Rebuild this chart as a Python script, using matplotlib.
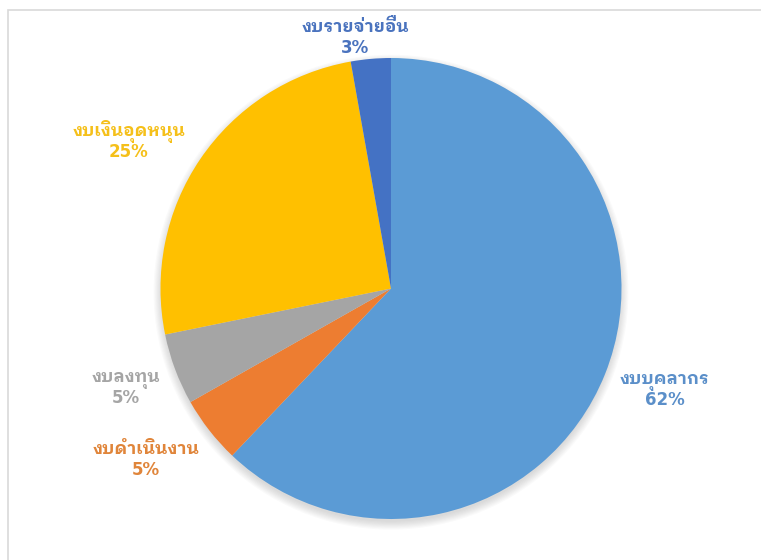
import matplotlib
matplotlib.use("Agg")
import matplotlib.pyplot as plt
from matplotlib.patches import Circle, Rectangle

plt.rcParams['font.family'] = ['IBM Plex Sans Thai Looped', 'DejaVu Sans']

# ข้อมูล (ตามเข็มนาฬิกาจากด้านบน)
labels = ['งบบุคลากร', 'งบดำเนินงาน', 'งบลงทุน', 'งบเงินอุดหนุน', 'งบรายจ่ายอื่น']
values = [62.1, 4.7, 5.0, 25.4, 2.8]
colors = ['#5B9BD5', '#ED7D31', '#A5A5A5', '#FFC000', '#4472C4']
text_colors = ['#5B8FC9', '#E0853A', '#A5A5A5', '#F5C01A', '#4A73BE']
# ตำแหน่งป้าย: x กลาง, baseline บรรทัดชื่อ (พิกเซล จากมุมซ้ายบน)
label_px = [(665, 384), (146, 454), (126, 382), (129, 136), (355, 32)]

W, H = 761, 560
cx, cy, R = 391, 288.5, 230.5

fig = plt.figure(figsize=(W / 100, H / 100), dpi=100)

# กรอบบาง ๆ
fig.patches.append(Rectangle((8 / W, -0.1), 1.2, 1 - 10 / H + 0.1,
                             transform=fig.transFigure, fill=False,
                             edgecolor='#D9D9D9', linewidth=1.2))

ax = fig.add_axes([(cx - R) / W, (H - cy - R) / H, 2 * R / W, 2 * R / H])

# เงาใต้วงกลม
for k in range(8):
    ax.add_patch(Circle((0.0, -0.016), 0.995 + k * 0.005, color='#808080',
                        alpha=0.04, linewidth=0, zorder=0, clip_on=False))

wedges, _ = ax.pie(values, colors=colors, startangle=90, counterclock=False,
                   radius=1, wedgeprops=dict(linewidth=0))
for w in wedges:
    w.set_zorder(2)

ax.set_xlim(-1, 1)
ax.set_ylim(-1, 1)
ax.set_aspect('equal')
ax.axis('off')

for lab, v, c, (x, y) in zip(labels, values, text_colors, label_px):
    fig.text(x / W, 1 - y / H, lab, ha='center', va='baseline',
             color=c, fontsize=12.5, fontweight='bold')
    fig.text(x / W, 1 - (y + 21) / H, f'{round(v)}%', ha='center', va='baseline',
             color=c, fontsize=12, fontweight='bold', family='DejaVu Sans')

fig.savefig('out.png', dpi=100)
